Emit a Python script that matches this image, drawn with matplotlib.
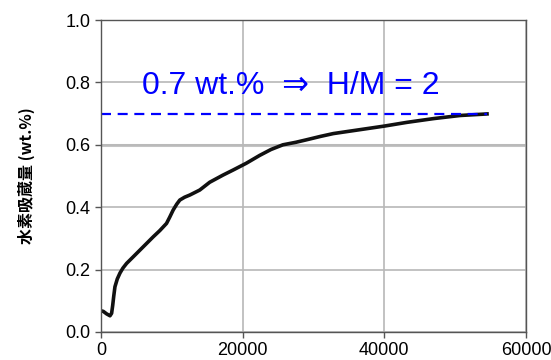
import matplotlib
matplotlib.use("Agg")
import matplotlib.pyplot as plt
import numpy as np

# time (s) vs hydrogen content (wt.%)
time_s = [0, 330, 800, 1270, 1500, 1650, 1800, 1970, 2300, 2680, 3100,
          3620, 4550, 5960, 7370, 8300, 9250, 9700, 10190, 10700, 11130,
          11800, 12540, 13940, 15350, 17230, 18640, 20520, 22400, 24000,
          25680, 27500, 29000, 31000, 32800, 36100, 40000, 43200, 46950,
          50700, 53800, 54500]
h_wt = [0.068, 0.066, 0.058, 0.052, 0.060, 0.085, 0.115, 0.145, 0.170,
        0.189, 0.205, 0.220, 0.241, 0.273, 0.305, 0.325, 0.348, 0.368,
        0.391, 0.410, 0.423, 0.432, 0.439, 0.455, 0.480, 0.503, 0.519,
        0.541, 0.566, 0.585, 0.600, 0.608, 0.616, 0.627, 0.636, 0.647,
        0.660, 0.672, 0.684, 0.694, 0.698, 0.699]

ref_level = 0.7
ref_end = 54500
label_text = "0.7 wt.%  \u21d2  H/M = 2"
ylabel = "水素吸蔵量 (wt.%)"

xticks = [0, 20000, 40000, 60000]
yticks = [0.0, 0.2, 0.4, 0.6, 0.8, 1.0]

plt.rcParams['font.family'] = ['Liberation Sans', 'DejaVu Sans']

fig = plt.figure(figsize=(5.51, 3.60), dpi=100)
ax = fig.add_axes([0.1833, 0.0778, 0.7713, 0.8666])

ax.plot(time_s, h_wt, color="#111111", lw=2.6, solid_joinstyle="round")
ax.plot([0, ref_end], [ref_level, ref_level], color="#0000ff", lw=1.6,
        dashes=(4.5, 3))
ax.text(5800, 0.762, label_text, color="#0000ff", fontsize=23,
        family=['Liberation Sans', 'DejaVu Sans'])

ax.set_xlim(0, 60000)
ax.set_ylim(0, 1.0)
ax.set_xticks(xticks)
ax.set_yticks(yticks)
ax.set_xticklabels([str(t) for t in xticks])
ax.set_yticklabels([f"{t:.1f}" for t in yticks])
ax.tick_params(labelsize=13, direction="out", length=4, color="#555555",
               width=1)
ax.grid(True, color="#b8b8b8", lw=1.2)
ax.axhline(0.6, color="#c4c4c4", lw=2.2, zorder=0.5)
ax.set_axisbelow(True)
for s in ax.spines.values():
    s.set_color("#555555")
    s.set_linewidth(1.0)

ax.set_ylabel(ylabel, fontsize=11.5, fontweight="bold",
              family=['Noto Sans CJK JP', 'DejaVu Sans'], labelpad=22)

fig.savefig("out.png", dpi=100)
